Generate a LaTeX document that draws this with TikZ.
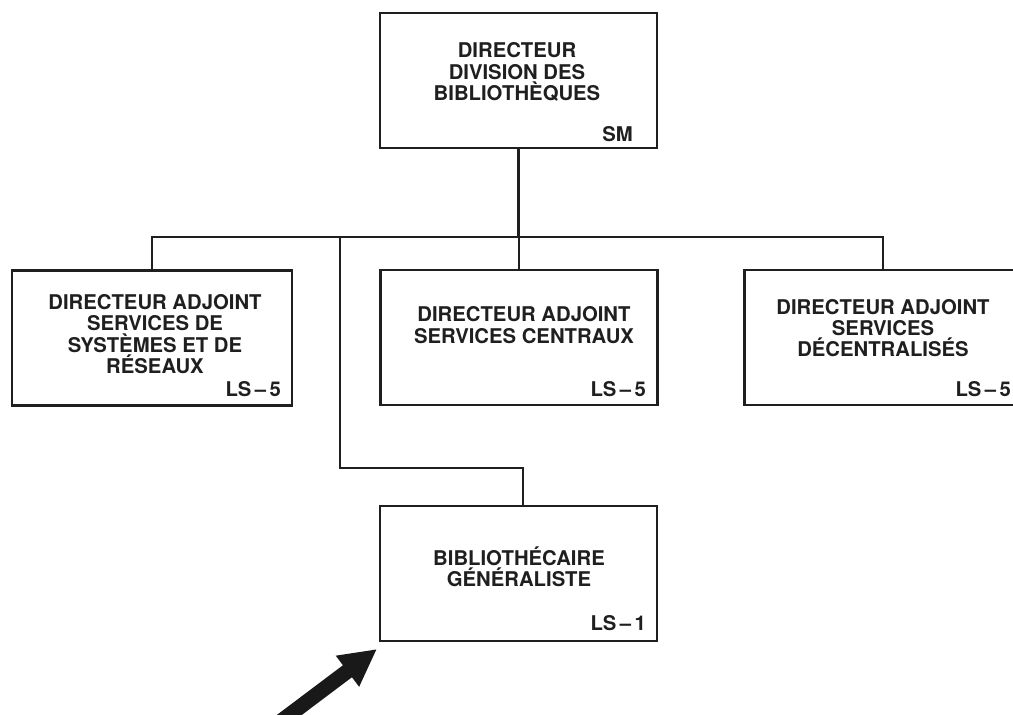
\documentclass[tikz,border=0pt]{standalone}
\usepackage{fontspec}
\setmainfont{TeX Gyre Heros}
\usetikzlibrary{arrows.meta}
\begin{document}
\begin{tikzpicture}[x=1pt,y=-1pt,
  box/.style={draw=black!88, line width=2.3pt, minimum width=277pt,
    minimum height=135pt, inner sep=0pt},
  title/.style={align=center, text=black!88,
    font=\fontsize{20.3}{21.2}\selectfont\bfseries, inner sep=0pt},
  grade/.style={anchor=base east, text=black!88,
    font=\fontsize{20.3}{21.2}\selectfont\bfseries, inner sep=0pt},
  link/.style={draw=black!88, line width=2.3pt},
  pointer/.style={draw=black!90, line width=15pt,
    -{Triangle[width=36pt,length=37pt]}}
]
\useasboundingbox (0,0) rectangle (1013,715);
\clip (0,0) rectangle (1013,715);

% boxes
\node[box] (dir) at (518.5,80.5) {};
\node[box, minimum width=280pt] (sys) at (152,338) {};
\node[box] (cen) at (519,337.5) {};
\node[box] (dec) at (883,337.5) {};
\node[box] (gen) at (518.5,573.5) {};

% titles
\node[title] (dirt) at (517,72) {DIRECTEUR\\DIVISION DES\\BIBLIOTHÈQUES};
\node[title] (syst) at (155,334) {DIRECTEUR ADJOINT\\SERVICES DE\\SYSTÈMES ET DE\\RÉSEAUX};
\node[title] (cent) at (524,325) {DIRECTEUR ADJOINT\\SERVICES CENTRAUX};
\node[title] (dect) at (883,328) {DIRECTEUR ADJOINT\\SERVICES\\DÉCENTRALISÉS};
\node[title] (gent) at (519,567) {BIBLIOTHÉCAIRE\\GÉNÉRALISTE};

% grades
\node[grade] (dirg) at (633,141) {SM};
\node[grade] (sysg) at (281,396) {LS\,–\,5};
\node[grade] (ceng) at (646,396) {LS\,–\,5};
\node[grade] (decg) at (1011,396) {LS\,–\,5};
\node[grade] (geng) at (646,630) {LS\,–\,1};

% connectors
\coordinate (bar) at (0,237);
\coordinate (branch) at (340,237);
\coordinate (elbow) at (340,468);
\draw[link] (dir.south) -- (dir.south |- bar);
\draw[link] (sys.north) |- (dec.north |- bar) -- (dec.north);
\draw[link] (cen.north |- bar) -- (cen.north);
\draw[link] (branch) -- (elbow) -| ([xshift=4.5pt]gen.north);

% pointer
\coordinate (tip) at (377,649);
\coordinate (tail) at (276,725);
\draw[pointer] (tail) -- (tip);
\end{tikzpicture}
\end{document}
